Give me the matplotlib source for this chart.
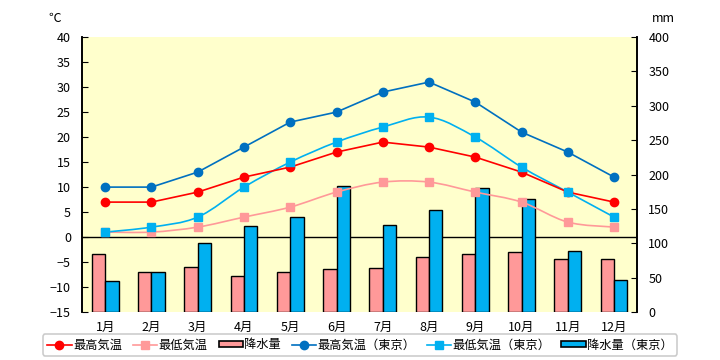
import matplotlib
matplotlib.use("Agg")
import matplotlib.pyplot as plt
import numpy as np
from matplotlib.path import Path
from matplotlib.patches import PathPatch, Patch
from matplotlib.lines import Line2D

plt.rcParams['font.family'] = ['Noto Sans CJK JP', 'DejaVu Sans']

months = ['1月', '2月', '3月', '4月', '5月', '6月', '7月', '8月', '9月', '10月', '11月', '12月']
max_temp = [7, 7, 9, 12, 14, 17, 19, 18, 16, 13, 9, 7]
min_temp = [1, 1, 2, 4, 6, 9, 11, 11, 9, 7, 3, 2]
precip = [85, 58, 66, 52, 59, 62, 64, 80, 84, 87, 77, 77]
tokyo_max = [10, 10, 13, 18, 23, 25, 29, 31, 27, 21, 17, 12]
tokyo_min = [1, 2, 4, 10, 15, 19, 22, 24, 20, 14, 9, 4]
tokyo_precip = [45, 59, 100, 125, 138, 184, 126, 148, 180, 164, 89, 46]

c_red = '#ff0000'
c_pink = '#ff9999'
c_blue = '#0070c0'
c_cyan = '#00b0f0'


def smooth_path(xs, ys):
    # bezier through the points, like a spreadsheet "smoothed line"
    pts = np.column_stack([xs, ys]).astype(float)
    ext = np.vstack([pts[0], pts, pts[-1]])
    verts = [pts[0]]
    codes = [Path.MOVETO]
    for i in range(len(pts) - 1):
        p0, p1, p2, p3 = ext[i], ext[i + 1], ext[i + 2], ext[i + 3]
        verts += [p1 + (p2 - p0) / 6, p2 - (p3 - p1) / 6, p2]
        codes += [Path.CURVE4] * 3
    return Path(verts, codes)


x = np.arange(len(months))
w = 0.29

fig = plt.figure(figsize=(7.2, 3.6), dpi=100)
ax = fig.add_axes([0.114, 0.133, 0.771, 0.764])
ax2 = ax.twinx()
ax.set_zorder(ax2.get_zorder() + 1)
ax.patch.set_visible(False)
ax2.patch.set_visible(True)
ax2.set_facecolor('#ffffcc')

# zero line sits behind the bars
ax2.plot([0, 1], [0, 0], color='black', lw=1, transform=ax.get_yaxis_transform(), zorder=1)

ax2.bar(x - w / 2, precip, w, color=c_pink, edgecolor='black', lw=1, zorder=2)
ax2.bar(x + w / 2, tokyo_precip, w, color=c_cyan, edgecolor='black', lw=1, zorder=2)

ax.plot(x, max_temp, color=c_red, lw=1.2, marker='o', ms=6)
ax.plot(x, tokyo_max, color=c_blue, lw=1.2, marker='o', ms=6)
ax.add_patch(PathPatch(smooth_path(x, min_temp), fill=False, edgecolor=c_pink, lw=1.2))
ax.plot(x, min_temp, ls='none', color=c_pink, marker='s', ms=6)
ax.add_patch(PathPatch(smooth_path(x, tokyo_min), fill=False, edgecolor=c_cyan, lw=1.2))
ax.plot(x, tokyo_min, ls='none', color=c_cyan, marker='s', ms=6)

ax.set_xlim(-0.5, 11.5)
ax.set_ylim(-15, 40)
ax.set_yticks(range(-15, 41, 5))
ax2.set_ylim(0, 400)
ax2.set_yticks(range(0, 401, 50))
ax.set_xticks(x)
ax.set_xticklabels(months)
ax.tick_params(axis='x', length=0, labelsize=9, pad=6)
ax.tick_params(axis='y', direction='in', length=4, labelsize=9, pad=8)
ax2.tick_params(axis='y', direction='in', length=4, labelsize=9, pad=8)

for a in (ax, ax2):
    a.spines['top'].set_visible(False)
    a.spines['bottom'].set_visible(False)
    a.spines['left'].set_linewidth(1.2)
    a.spines['right'].set_linewidth(1.2)

fig.text(0.076, 0.95, '℃', fontsize=9, ha='center', va='center')
fig.text(0.921, 0.95, 'mm', fontsize=9, ha='center', va='center')

handles = [
    Line2D([], [], color=c_red, lw=1.2, marker='o', ms=6),
    Line2D([], [], color=c_pink, lw=1.2, marker='s', ms=6),
    Patch(facecolor=c_pink, edgecolor='black', lw=1.2),
    Line2D([], [], color=c_blue, lw=1.2, marker='o', ms=6),
    Line2D([], [], color=c_cyan, lw=1.2, marker='s', ms=6),
    Patch(facecolor=c_cyan, edgecolor='black', lw=1.2),
]
labels = ['最高気温', '最低気温', '降水量', '最高気温（東京）', '最低気温（東京）', '降水量（東京）']
leg = fig.legend(handles, labels, loc='center', bbox_to_anchor=(0.5, 0.042), ncol=6,
                 fontsize=8.8, frameon=True, fancybox=True, handlelength=2.0,
                 handleheight=0.45, handletextpad=0.1, columnspacing=0.9,
                 borderpad=0.35)
leg.get_frame().set_edgecolor('#c0c0c0')
leg.get_frame().set_linewidth(1.2)

fig.savefig('out.png', dpi=100)
